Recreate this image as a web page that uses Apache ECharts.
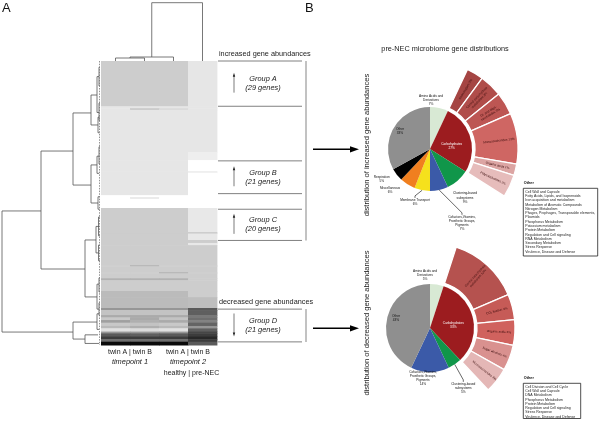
<!DOCTYPE html>
<html><head><meta charset="utf-8">
<script src="https://cdn.jsdelivr.net/npm/echarts@6/dist/echarts.min.js"></script>
<style>html,body{margin:0;padding:0;background:#fff}#c{width:600px;height:423px}</style>
</head><body><div id="c"></div>
<script>
const FONT = '"Liberation Sans", Arial, Helvetica, sans-serif';

// ---------- Panel A data ----------
const heatColNames = ['twin A', 'twin B', 'twin A', 'twin B'];
const timepoints = ['timepoint 1', 'timepoint 2'];
const conditionLabel = 'healthy | pre-NEC';
const totalGenes = 182;
// row bands: [startGene, endGene, gray col1, col2, col3, col4]
const heatRows = [
  [0, 29, 205, 205, 205, 230],
  [29, 30.3, 230, 230, 230, 230],
  [30.3, 31.3, 230, 195, 215, 230],
  [31.3, 58.3, 230, 230, 230, 230],
  [58.3, 63.5, 230, 230, 230, 238],
  [63.5, 70.6, 230, 230, 230, 255],
  [70.6, 71.6, 230, 230, 230, 236],
  [71.6, 86, 230, 230, 230, 255],
  [86, 87.3, 255, 255, 255, 255],
  [87.3, 88.3, 255, 230, 255, 255],
  [88.3, 94.2, 255, 255, 255, 255],
  [94.2, 109.6, 205, 205, 205, 232],
  [109.6, 110.6, 205, 205, 205, 205],
  [110.6, 114.7, 205, 205, 205, 232],
  [114.7, 116.6, 205, 205, 205, 205],
  [116.6, 118, 205, 205, 205, 232],
  [118, 130.8, 205, 205, 205, 205],
  [130.8, 131.6, 205, 180, 205, 205],
  [131.6, 135.3, 205, 205, 205, 205],
  [135.3, 136.1, 205, 205, 180, 205],
  [136.1, 139.2, 205, 205, 205, 205],
  [139.2, 140.5, 178, 178, 178, 205],
  [140.5, 147.4, 205, 205, 205, 205],
  [147.4, 151.3, 187, 187, 187, 205],
  [151.3, 158.3, 187, 187, 187, 190],
  [158.3, 159.6, 150, 150, 150, 90],
  [159.6, 162.8, 195, 195, 195, 95],
  [162.8, 164.3, 170, 170, 170, 120],
  [164.3, 166, 200, 170, 195, 110],
  [166, 167.7, 160, 175, 170, 130],
  [167.7, 169.8, 200, 195, 200, 100],
  [169.8, 171.3, 185, 175, 185, 150],
  [171.3, 173.4, 225, 220, 225, 95],
  [173.4, 174.5, 150, 150, 150, 70],
  [174.5, 176.6, 90, 95, 90, 60],
  [176.6, 178.3, 60, 60, 60, 40],
  [178.3, 179.9, 110, 110, 110, 60],
  [179.9, 182, 10, 10, 10, 90]
];
// row dendrogram nodes: [height, rowTop, rowBottom, childHeightTop, childHeightBottom]
const rowNodes = [
  [99, 96.1, 173.7, 60, 28],
  [60, 57.7, 133.3, 28, 16],
  [28, 33.3, 79.5, 10, 10],
  [10, 21.8, 41.0, 4, 3],
  [10, 66.6, 91.0, 4, 3],
  [16, 114.7, 151.2, 5, 4],
  [28, 167.3, 178.2, 4, 16],
  [16, 175.5, 181, 3, 2],
  [4, 10, 33, 2, 2],
  [3, 36, 46, 1.5, 1.5],
  [4, 61, 72, 2, 2],
  [3, 87, 95, 1.5, 1.5],
  [5, 106, 123, 2, 2.5],
  [4, 143, 159, 2, 2],
  [4, 162, 172, 2, 2],
  [2, 4, 16, 1, 1],
  [2, 27, 38, 1, 1],
  [2, 55, 66, 1, 1],
  [2.5, 100, 112, 1, 1],
  [2.5, 118, 128, 1, 1],
  [2, 139, 148, 1, 1],
  [2, 155, 163, 1, 1]
];
const leafSpan = [0, 182];
// column dendrogram nodes: [colLeft, colRight, height, childHeightLeft, childHeightRight]
const colNodes = [
  [0.5, 1.5, 3, 0, 0],
  [1.0, 2.5, 4, 3, 0],
  [1.75, 3.5, 58.3, 4, 0]
];
const groupNames = ['Group A', 'Group B', 'Group C', 'Group D'];
const groupGenes = [29, 21, 20, 21];
const groupStart = [0, 64, 95, 159];
const groupEnd = [29, 85, 115, 180];
const groupDir = ['up', 'up', 'up', 'down'];
const abundanceBrackets = [
  ['increased gene abundances', 0, 115],
  ['decreased gene abundances', 159, 180]
];

// ---------- Panel B data ----------
const pieTitle = 'pre-NEC microbiome gene distributions';
const incTitle = 'distribution of increased gene abundances';
const decTitle = 'distribution of decreased gene abundances';

const incCategories = ['Amino Acids and\nDerivatives', 'Carbohydrates', 'Clustering-based\nsubsystems',
  'Cofactors,Vitamins,\nProsthetic Groups,\nPigments', 'Membrane Transport', 'Miscellaneous', 'Respiration', 'Other'];
const incValues = [7, 27, 9, 7, 6, 6, 5, 33];
const incCarbSub = ['Aminosugars', 'Central carbohydrate\nmetabolism', 'Di- and oligo-\nsaccharides', 'Monosaccharides', 'Organic acids', 'Polysaccharides'];
const incCarbArc = [3, 4, 4, 9, 2, 4];
const incCarbPct = [3, 3, 3, 13, 1, 2];

const decCategories = ['Amino Acids and\nDerivatives', 'Carbohydrates', 'Clustering-based\nsubsystems',
  'Cofactors,Vitamins,\nProsthetic Groups,\nPigments', 'Other'];
const decValues = [5, 33, 5, 14, 43];
const decCarbSub = ['Central carbohydrate\nmetabolism', 'CO\u2082 fixation', 'Organic acids', 'Sugar alcohols', 'Monosaccharides'];
const decCarbArc = [14, 5, 5, 5, 5];
const decCarbPct = [12, 3, 3, 4, 3];

const incOther = ['Cell Wall and Capsule', 'Fatty Acids, Lipids, and Isoprenoids', 'Iron acquisition and metabolism',
  'Metabolism of Aromatic Compounds', 'Nitrogen Metabolism', 'Phages, Prophages, Transposable elements,', 'Plasmids',
  'Phosphorus Metabolism', 'Potassium metabolism', 'Protein Metabolism', 'Regulation and Cell signaling',
  'RNA Metabolism', 'Secondary Metabolism', 'Stress Response', 'Virulence, Disease and Defense'];
const decOther = ['Cell Division and Cell Cycle', 'Cell Wall and Capsule', 'DNA Metabolism', 'Phosphorus Metabolism',
  'Protein Metabolism', 'Regulation and Cell signaling', 'Stress Response', 'Virulence, Disease and Defense'];

// ---------- styles / layout ----------
const catColor = {
  'Amino Acids and\nDerivatives': '#d8e9d4', 'Carbohydrates': '#9c1c1f', 'Clustering-based\nsubsystems': '#10964a',
  'Cofactors,Vitamins,\nProsthetic Groups,\nPigments': '#3b5aa8', 'Membrane Transport': '#f5e11c',
  'Miscellaneous': '#f07f1f', 'Respiration': '#000000', 'Other': '#8f8f8f'
};
const incRingColors = ['#a54543', '#b04d4a', '#bd5653', '#cf6663', '#dca5a3', '#e6bcbb'];
const decRingColors = ['#b5524f', '#c65b57', '#d0625e', '#d9918f', '#e4b7b6'];
const incCenter = [430, 149], decCenter = [430, 328];
const incLabelPos = {0: [431, 100], 1: [451.7, 146], 2: [465, 197.7], 3: [462, 223], 4: [415, 202], 5: [390, 190.5], 6: [381.7, 179.5], 7: [400, 130.7]};
const decLabelPos = {0: [425, 275.5], 1: [453.3, 325], 2: [463.3, 388], 3: [423, 378], 4: [396, 318]};
const leaderItems = {inc: [3, 4], dec: [2]};

const HM = {left: 101, top: 61, width: 116, height: 284};
const colW = HM.width / 4;

const heatData = [];
heatRows.forEach(r => { for (let c = 0; c < 4; c++) heatData.push([c, r[0], r[1], r[2 + c]]); });

function pieSeries(center, r, cats, vals, posMap, leaders) {
  return {
    type: 'pie', center: center, radius: [0, r], startAngle: 90, clockwise: true,
    avoidLabelOverlap: false, silent: true, animation: false, emphasis: {disabled: true},
    data: cats.map((n, i) => {
      const item = {name: n, value: vals[i], itemStyle: {color: catColor[n]}};
      if (n === 'Carbohydrates') item.label = {position: 'inside', color: '#fff'};
      else if (n === 'Other') item.label = {position: 'inside', color: '#111'};
      if (leaders.indexOf(i) >= 0) item.labelLine = {show: true, length: 4, length2: 2, lineStyle: {color: '#000', width: 0.6}};
      return item;
    }),
    label: {show: true, position: 'outside', fontSize: 3.2, lineHeight: 4.1, fontFamily: FONT, color: '#111',
      align: 'center', formatter: p => p.name + '\n' + p.value + '%'},
    labelLine: {show: false},
    labelLayout: p => {
      const q = posMap[p.dataIndex];
      return q ? {x: q[0], y: q[1], align: 'center', verticalAlign: 'middle'} : {};
    }
  };
}
function ringSeries(center, r0, r1, carbStart, carbPct, names, arcs, pcts, colors) {
  const sum = arcs.reduce((a, b) => a + b, 0);
  const data = names.map((n, i) => ({name: n, value: arcs[i], itemStyle: {color: colors[i]},
    label: {formatter: n + ' ' + pcts[i] + '%'}}));
  data.push({name: '', value: sum * (100 - carbPct) / carbPct,
    itemStyle: {color: 'rgba(0,0,0,0)', borderWidth: 0}, label: {show: false}, labelLine: {show: false}});
  return {
    type: 'pie', center: center, radius: [r0, r1], startAngle: 90 - 3.6 * carbStart, clockwise: true,
    avoidLabelOverlap: false, silent: true, animation: false, emphasis: {disabled: true},
    itemStyle: {borderColor: '#fff', borderWidth: 1.3},
    label: {show: true, position: 'inside', rotate: 'radial', fontSize: 3.1, lineHeight: 3.8, fontFamily: FONT, color: '#3a0c0c'},
    labelLine: {show: false},
    data: data
  };
}

const lineCol = '#555';
const chart = echarts.init(document.getElementById('c'), null, {renderer: 'canvas'});
const opt = {
  animation: false,
  backgroundColor: '#fff',
  grid: [
    {left: HM.left, top: HM.top, width: HM.width, height: HM.height, outerBoundsMode: 'none'},
    {left: 1, top: HM.top, width: 100, height: HM.height, outerBoundsMode: 'none'},
    {left: HM.left, top: 0, width: HM.width, height: HM.top, outerBoundsMode: 'none'},
    {left: 218, top: HM.top, width: 90, height: HM.height, outerBoundsMode: 'none'}
  ],
  xAxis: [
    {gridIndex: 0, type: 'value', min: 0, max: 4, show: false},
    {gridIndex: 1, type: 'value', min: 0, max: 100, inverse: true, show: false},
    {gridIndex: 2, type: 'value', min: 0, max: 4, show: false},
    {gridIndex: 3, type: 'value', min: 0, max: 90, show: false}
  ],
  yAxis: [
    {gridIndex: 0, type: 'value', min: 0, max: totalGenes, inverse: true, show: false},
    {gridIndex: 1, type: 'value', min: 0, max: totalGenes, inverse: true, show: false},
    {gridIndex: 2, type: 'value', min: 0, max: HM.top, show: false},
    {gridIndex: 3, type: 'value', min: 0, max: totalGenes, inverse: true, show: false}
  ],
  series: [
    { // heatmap
      type: 'custom', xAxisIndex: 0, yAxisIndex: 0, silent: true, clip: false, data: heatData,
      renderItem: (params, api) => {
        const c = api.value(0), s = api.value(1), e = api.value(2), g = api.value(3);
        const p0 = api.coord([c, s]), p1 = api.coord([c + 1, e]);
        return {type: 'rect', shape: {x: p0[0], y: p0[1], width: p1[0] - p0[0] + 0.4, height: p1[1] - p0[1] + 0.5},
          style: {fill: 'rgb(' + g + ',' + g + ',' + g + ')'}};
      }
    },
    { // row dendrogram
      type: 'custom', xAxisIndex: 1, yAxisIndex: 1, silent: true, clip: false, data: rowNodes,
      renderItem: (params, api) => {
        const h = api.value(0), a = api.value(1), b = api.value(2), ha = api.value(3), hb = api.value(4);
        return {type: 'polyline', shape: {points: [api.coord([ha, a]), api.coord([h, a]), api.coord([h, b]), api.coord([hb, b])]},
          style: {stroke: lineCol, lineWidth: 0.8, fill: null}};
      }
    },
    { // leaf ticks
      type: 'custom', xAxisIndex: 1, yAxisIndex: 1, silent: true, clip: false, data: [leafSpan],
      renderItem: (params, api) => ({type: 'line',
        shape: {x1: api.coord([1.5, api.value(0)])[0], y1: api.coord([1.5, api.value(0)])[1],
                x2: api.coord([1.5, api.value(1)])[0], y2: api.coord([1.5, api.value(1)])[1]},
        style: {stroke: '#777', lineWidth: 0.8, lineDash: [1.5, 1.2]}})
    },
    { // column dendrogram
      type: 'custom', xAxisIndex: 2, yAxisIndex: 2, silent: true, clip: false, data: colNodes,
      renderItem: (params, api) => {
        const x1 = api.value(0), x2 = api.value(1), h = api.value(2), h1 = api.value(3), h2 = api.value(4);
        return {type: 'polyline', shape: {points: [api.coord([x1, h1]), api.coord([x1, h]), api.coord([x2, h]), api.coord([x2, h2])]},
          style: {stroke: lineCol, lineWidth: 0.8, fill: null}};
      }
    },
    { // groups
      type: 'custom', xAxisIndex: 3, yAxisIndex: 3, silent: true, clip: false,
      data: groupNames.map((n, i) => [groupStart[i], groupEnd[i], i]),
      renderItem: (params, api) => {
        const s = api.value(0), e = api.value(1), i = api.value(2);
        const a = api.coord([0, s]), b = api.coord([84, e]);
        const mid = (a[1] + b[1]) / 2;
        const ax = api.coord([16, 0])[0], tx = api.coord([45, 0])[0];
        const up = groupDir[i] === 'up';
        const tip = up ? mid - 11 : mid + 11, tail = up ? mid + 9 : mid - 12;
        const hd = up ? 4 : -4;
        return {type: 'group', children: [
          {type: 'line', shape: {x1: a[0], y1: a[1], x2: b[0], y2: a[1]}, style: {stroke: '#808080', lineWidth: 1}},
          {type: 'line', shape: {x1: a[0], y1: b[1], x2: b[0], y2: b[1]}, style: {stroke: '#808080', lineWidth: 1}},
          {type: 'line', shape: {x1: ax, y1: tail, x2: ax, y2: tip + hd * 0.6}, style: {stroke: '#222', lineWidth: 0.6}},
          {type: 'polygon', shape: {points: [[ax, tip], [ax - 1.2, tip + hd], [ax + 1.2, tip + hd]]}, style: {fill: '#222'}},
          {type: 'text', x: tx, y: mid - 4.8, style: {text: groupNames[i], fontSize: 7.4, fontStyle: 'italic', fontFamily: FONT, fill: '#222', align: 'center', verticalAlign: 'middle'}},
          {type: 'text', x: tx, y: mid + 4.2, style: {text: '(' + groupGenes[i] + ' genes)', fontSize: 7.4, fontStyle: 'italic', fontFamily: FONT, fill: '#222', align: 'center', verticalAlign: 'middle'}}
        ]};
      }
    },
    { // abundance brackets
      type: 'custom', xAxisIndex: 3, yAxisIndex: 3, silent: true, clip: false,
      data: abundanceBrackets.map((b, i) => [b[1], b[2], i]),
      renderItem: (params, api) => {
        const s = api.value(0), e = api.value(1), i = api.value(2);
        const a = api.coord([88, s]), b = api.coord([88, e]), t = api.coord([1, s]);
        return {type: 'group', children: [
          {type: 'line', shape: {x1: a[0], y1: a[1], x2: b[0], y2: b[1]}, style: {stroke: '#999', lineWidth: 1.2}},
          {type: 'text', x: t[0], y: t[1] - 7.5, style: {text: abundanceBrackets[i][0], fontSize: 7.3, fontFamily: FONT, fill: '#222', align: 'left', verticalAlign: 'middle'}}
        ]};
      }
    },
    pieSeries(incCenter, 42, incCategories, incValues, incLabelPos, leaderItems.inc),
    ringSeries(incCenter, 45, 88, incValues[0], incValues[1], incCarbSub, incCarbArc, incCarbPct, incRingColors),
    pieSeries(decCenter, 44, decCategories, decValues, decLabelPos, leaderItems.dec),
    ringSeries(decCenter, 47, 85, decValues[0], decValues[1], decCarbSub, decCarbArc, decCarbPct, decRingColors)
  ],
  graphic: {elements: []}
};

const G = opt.graphic.elements;
const txt = (x, y, text, size, extra) => G.push(Object.assign({type: 'text', x: x, y: y, silent: true,
  style: Object.assign({text: text, fontSize: size, fontFamily: FONT, fill: '#222', align: 'center', verticalAlign: 'middle'}, extra || {})}));
txt(2, 8, 'A', 13, {align: 'left', fill: '#111'});
txt(305, 8, 'B', 13, {align: 'left', fill: '#111'});
for (let t = 0; t < 2; t++) {
  const cx = HM.left + colW * (1 + 2 * t);
  txt(cx, 351.7, heatColNames[2 * t] + ' | ' + heatColNames[2 * t + 1], 7, {});
  txt(cx, 362, timepoints[t], 7.4, {fontStyle: 'italic'});
}
txt(HM.left + colW * 3 + 3.5, 373, conditionLabel, 7, {});
txt(445, 49, pieTitle, 7.3, {});
txt(366.7, 145, incTitle, 7.6, {}); G[G.length - 1].rotation = Math.PI / 2;
txt(366.7, 323, decTitle, 7.6, {}); G[G.length - 1].rotation = Math.PI / 2;
[incCenter, decCenter].forEach(c => {
  G.push({type: 'line', silent: true, shape: {x1: 313, y1: c[1] + 0.3, x2: 352, y2: c[1] + 0.3}, style: {stroke: '#000', lineWidth: 1.5}});
  G.push({type: 'polygon', silent: true, shape: {points: [[359, c[1] + 0.3], [350, c[1] - 2.8], [350, c[1] + 3.4]]}, style: {fill: '#000'}});
});
function legendBox(x, y, w, h, items) {
  txt(x + 0.5, y - 5.5, 'Other', 3.8, {align: 'left', fontWeight: 'bold', fill: '#111'});
  G.push({type: 'rect', silent: true, shape: {x: x, y: y, width: w, height: h}, style: {fill: null, stroke: '#222', lineWidth: 0.8}});
  txt(x + 2, y + 1.3, items.join('\n'), 3.5, {align: 'left', verticalAlign: 'top', lineHeight: 4.29, fill: '#222'});
}
legendBox(523.3, 188.3, 74.4, 67.7, incOther);
legendBox(523.3, 383.3, 57.4, 35.2, decOther);

chart.setOption(opt);
</script></body></html>
